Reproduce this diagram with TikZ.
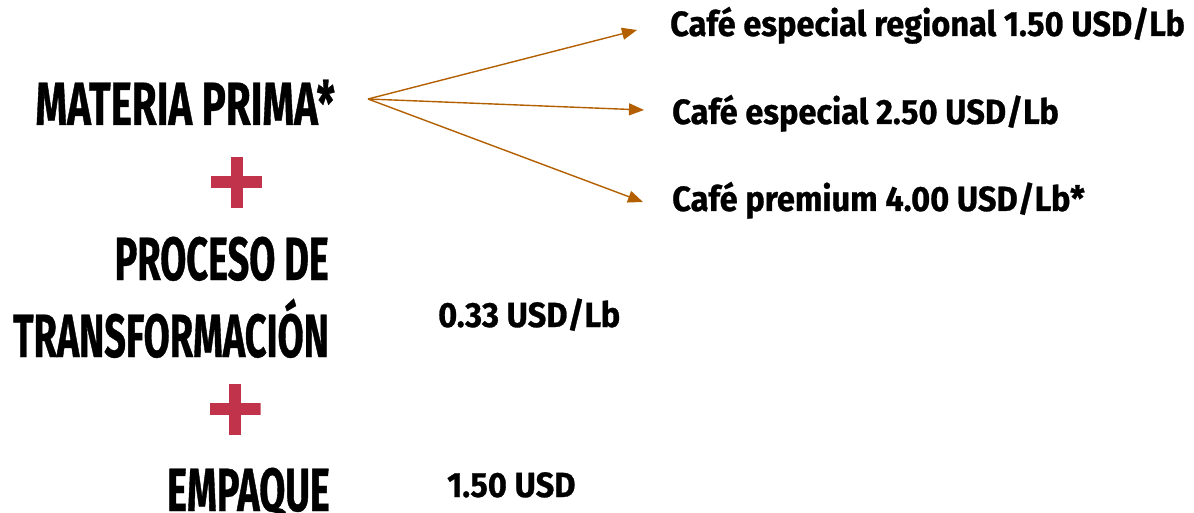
\documentclass[tikz,border=0pt]{standalone}
\usepackage{fontspec}
\usetikzlibrary{arrows.meta,calc}
\newfontfamily\condfont[FakeStretch=0.62,FakeBold=0.6]{Fira Sans}
\newfontfamily\condwidefont[FakeStretch=0.66,FakeBold=0.6]{Fira Sans}
\newfontfamily\pricefont[FakeStretch=0.93,FakeBold=0.8]{Fira Sans}
\definecolor{arrowc}{HTML}{B35F00}
\definecolor{plusred}{HTML}{C0334A}
\tikzset{
  big/.style={inner sep=0pt, anchor=base east, font=\condfont\bfseries\fontsize{61}{61}\selectfont},
  bigwide/.style={big, font=\condwidefont\bfseries\fontsize{61}{61}\selectfont},
  price/.style={inner sep=0pt, anchor=base west, font=\pricefont\bfseries\fontsize{35}{35}\selectfont},
  conn/.style={draw=arrowc, line width=1.4pt, -{Triangle[length=15pt,width=12pt]}},
  plussign/.style={minimum size=51pt, inner sep=0pt,
    path picture={
      \fill[plusred] ($(path picture bounding box.west)+(0,6pt)$) rectangle ($(path picture bounding box.east)+(0,-6pt)$);
      \fill[plusred] ($(path picture bounding box.north)+(-6pt,0)$) rectangle ($(path picture bounding box.south)+(6pt,0)$);
    }}
}
\begin{document}
\begin{tikzpicture}[x=1pt,y=-1pt]
\useasboundingbox (0,0) rectangle (1194,513);
\node[bigwide] (mp) at (335,125) {MATERIA PRIMA*};
\node[plussign] (plus1) at (236.5,182.5) {};
\node[big] (pr) at (329,280) {PROCESO DE};
\node[big] (tr) at (329,357) {TRANSFORMACIÓN};
\node[plussign] (plus2) at (235,409) {};
\node[big] (em) at (330,511) {EMPAQUE};
\node[price] (p1) at (670,36) {Café especial regional 1.50 USD/Lb};
\node[price] (p2) at (672,124) {Café especial 2.50 USD/Lb};
\node[price] (p3) at (672,211) {Café premium 4.00 USD/Lb*};
\node[price] (c1) at (438,327) {0.33 USD/Lb};
\node[price] (c2) at (447,497) {1.50 USD};
\coordinate (src) at (368,99);
\coordinate (t1) at (637,30);
\coordinate (t2) at (644,110);
\coordinate (t3) at (643,202);
\draw[conn] (src) -- (t1);
\draw[conn] (src) -- (t2);
\draw[conn] (src) -- (t3);
\end{tikzpicture}
\end{document}
